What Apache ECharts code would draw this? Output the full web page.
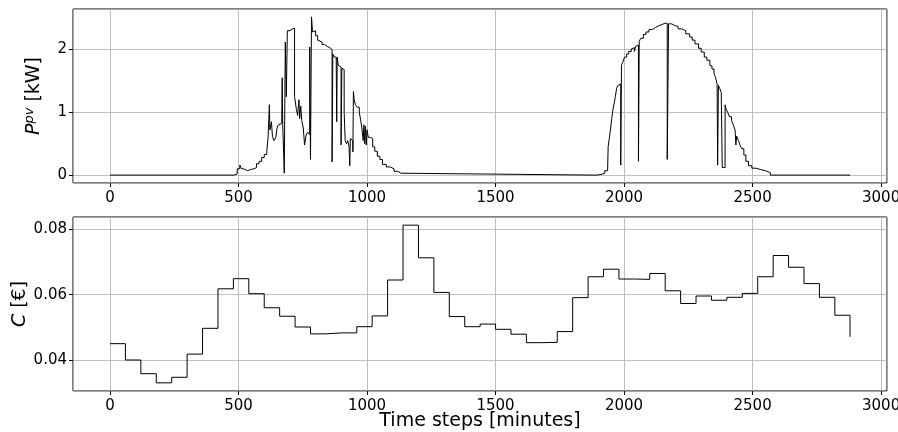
<!DOCTYPE html>
<html>
<head>
<meta charset="utf-8">
<script src="https://cdn.jsdelivr.net/npm/echarts@6/dist/echarts.min.js"></script>
<style>
  html, body { margin: 0; padding: 0; background: #fff; }
  #chart { width: 898px; height: 432px; }
</style>
</head>
<body>
<div id="chart"></div>
<script>
// PV 功率 (分钟, kW)，阶梯线
const pvTime = [
  0, 484, 495, 505, 512, 520, 535, 548, 560, 570, 580, 590, 600, 610, 615, 620, 622, 628, 632, 638,
  645, 650, 655, 660, 668, 670, 672, 678, 682, 686, 690, 700, 710, 718, 722, 725, 730, 735, 738, 742,
  746, 752, 757, 762, 768, 772, 777, 780, 784, 788, 795, 800, 808, 815, 825, 835, 845, 855, 864, 867,
  872, 880, 882, 884, 888, 893, 899, 902, 908, 911, 915, 920, 925, 930, 933, 935, 940, 945, 947, 950,
  955, 962, 970, 975, 980, 985, 988, 991, 994, 997, 1000, 1005, 1014, 1022, 1030, 1040, 1050, 1060, 1075, 1090,
  1105, 1120, 1132,
  1880, 1895, 1910, 1925, 1936, 1938, 1943, 1948, 1952, 1957, 1962, 1966, 1971, 1976, 1983, 1987, 1990, 1995, 2002,
  2010, 2018, 2028, 2035, 2040, 2045, 2052, 2056, 2059, 2065, 2075, 2085, 2097, 2110, 2122, 2135, 2148, 2160, 2168,
  2173, 2185, 2198, 2210, 2224, 2240, 2255, 2265, 2276, 2290, 2300, 2312, 2322, 2334, 2342, 2350, 2356, 2362, 2364,
  2367, 2372, 2378, 2382, 2393, 2397, 2403, 2410, 2418, 2425, 2432, 2435, 2438, 2445, 2452, 2458, 2466, 2474, 2484,
  2497, 2512, 2530, 2549, 2569, 2879
];
const pvPower = [
  0, 0.02, 0.1, 0.16, 0.1, 0.07, 0.09, 0.1, 0.12, 0.18, 0.22, 0.28, 0.33, 0.38, 0.6, 1.12, 0.72, 0.85, 0.62, 0.55,
  0.6, 0.75, 0.8, 0.82, 0.85, 1.55, 0.8, 0.03, 2.12, 1.25, 2.3, 2.33, 2.34, 1.25, 1.25, 1.05, 0.95, 1.2, 0.9, 1.1,
  0.87, 0.75, 0.48, 0.62, 0.68, 0.65, 2.04, 0.25, 2.52, 2.28, 2.3, 2.22, 2.15, 2.12, 2.08, 2.05, 2.03, 2.0, 0.21, 1.93,
  1.88, 1.9, 0.85, 1.88, 1.75, 1.72, 0.48, 1.7, 1.68, 1.0, 0.55, 0.5, 0.55, 0.45, 0.15, 0.58, 0.55, 0.37, 1.33, 1.2,
  1.12, 1.08, 1.0, 0.88, 0.75, 0.55, 0.8, 0.5, 0.78, 0.48, 0.72, 0.6, 0.58, 0.45, 0.38, 0.3, 0.25, 0.17, 0.13, 0.1,
  0.06, 0.03, 0,
  0, 0.01, 0.03, 0.07, 0.08, 0.45, 0.6, 0.75, 0.9, 1.05, 1.15, 1.25, 1.38, 1.43, 1.45, 0.16, 1.75, 1.8, 1.88,
  1.93, 1.97, 2.01, 2.03, 1.97, 2.05, 2.07, 0.22, 2.13, 2.18, 2.24, 2.28, 2.32, 2.35, 2.38, 2.4, 2.42, 2.42, 0.25,
  2.41, 2.38, 2.37, 2.33, 2.3, 2.25, 2.2, 2.15, 2.09, 2.02, 1.96, 1.88, 1.83, 1.74, 1.69, 1.62, 1.55, 1.45, 0.16,
  1.43, 1.38, 1.32, 0.12, 1.12, 1.05, 1.0, 0.93, 0.87, 0.8, 0.72, 0.48, 0.62, 0.55, 0.47, 0.42, 0.32, 0.22, 0.15,
  0.11, 0.09, 0.07, 0.04, 0, 0
];

// 电价 (每小时一档, €)
const costTime = [
  0, 60, 120, 180, 240, 300, 360, 420, 480, 540, 600, 660, 720, 780, 840, 900, 960, 1020, 1080, 1140, 1200, 1260, 1320, 1380,
  1440, 1500, 1560, 1620, 1680, 1740, 1800, 1860, 1920, 1980, 2040, 2100, 2160, 2220, 2280, 2340, 2400, 2460, 2520, 2580, 2640, 2700, 2760, 2820,
  2879
];
const costValue = [
  0.045, 0.040, 0.0358, 0.0330, 0.0347, 0.0418, 0.0497, 0.0618, 0.0649, 0.0603, 0.0560, 0.0534, 0.0501, 0.0480, 0.0483, 0.0483, 0.0502, 0.0535, 0.0645, 0.0813, 0.0713, 0.0607, 0.0533, 0.0502,
  0.0510, 0.0494, 0.0479, 0.0453, 0.0454, 0.0487, 0.0591, 0.0655, 0.0678, 0.0648, 0.0647, 0.0665, 0.0612, 0.0573, 0.0596, 0.0583, 0.0592, 0.0604, 0.0655, 0.0720, 0.0684, 0.0634, 0.0592, 0.0537,
  0.0471
];

const xTickLabels = ['0', '500', '1000', '1500', '2000', '2500', '3000'];

const font = 'DejaVu Sans';
const pvData = pvTime.map((t, i) => [t, pvPower[i]]);
const costData = costTime.map((t, i) => [t, costValue[i]]);

function xAxisCfg(gridIndex, withName) {
  return {
    type: 'value',
    gridIndex: gridIndex,
    min: -143.95,
    max: 3022.95,
    name: withName ? 'Time steps [minutes]' : '',
    nameLocation: 'middle',
    nameGap: 21,
    nameMoveOverlap: false,
    nameTextStyle: { fontFamily: font, fontSize: 19, color: '#000' },
    axisLine: { show: false, onZero: false },
    axisTick: { show: true, length: 4, lineStyle: { color: '#000', width: 1 } },
    axisLabel: {
      color: '#000', fontFamily: font, fontSize: 15, margin: 8,
      showMinLabel: false, showMaxLabel: false,
      formatter: v => xTickLabels.includes(String(v)) ? String(v) : ''
    },
    splitLine: { show: true, lineStyle: { color: '#b0b0b0', width: 0.8 } }
  };
}

function yAxisCfg(gridIndex, min, max, splitNumber, name, gap, rich) {
  return {
    type: 'value',
    gridIndex: gridIndex,
    min: min,
    max: max,
    splitNumber: splitNumber,
    name: name,
    nameLocation: 'middle',
    nameRotate: 90,
    nameGap: gap,
    nameMoveOverlap: false,
    nameTextStyle: { fontFamily: font, fontSize: 19, color: '#000', rich: rich },
    axisLine: { show: false, onZero: false },
    axisTick: { show: true, length: 4, lineStyle: { color: '#000', width: 1 } },
    axisLabel: {
      color: '#000', fontFamily: font, fontSize: 15, margin: 6,
      showMinLabel: false, showMaxLabel: false
    },
    splitLine: { show: true, lineStyle: { color: '#b0b0b0', width: 0.8 } }
  };
}

const chart = echarts.init(document.getElementById('chart'), null, { renderer: 'canvas' });
chart.setOption({
  animation: false,
  backgroundColor: '#fff',
  grid: [
    { left: 73, right: 11, top: 9, height: 174, outerBoundsMode: 'none', containLabel: false,
      show: true, borderColor: '#000', borderWidth: 1, backgroundColor: 'transparent' },
    { left: 73, right: 11, top: 217, height: 174, outerBoundsMode: 'none', containLabel: false,
      show: true, borderColor: '#000', borderWidth: 1, backgroundColor: 'transparent' }
  ],
  xAxis: [xAxisCfg(0, false), xAxisCfg(1, true)],
  yAxis: [
    yAxisCfg(0, -0.126, 2.646, 2, '{i|P}{s|pv} {n|[kW]}', 28, {
      i: { fontFamily: font, fontSize: 19, fontStyle: 'italic', color: '#000' },
      s: { fontFamily: font, fontSize: 13, fontStyle: 'italic', color: '#000', padding: [0, 0, 9, 0] },
      n: { fontFamily: font, fontSize: 19, color: '#000' }
    }),
    yAxisCfg(1, 0.0305, 0.0838, 3, '{i|C} {n|[€]}', 43, {
      i: { fontFamily: font, fontSize: 19, fontStyle: 'italic', color: '#000' },
      n: { fontFamily: font, fontSize: 19, color: '#000' }
    })
  ],
  series: [
    {
      type: 'line', xAxisIndex: 0, yAxisIndex: 0, step: 'end', data: pvData,
      showSymbol: false, symbol: 'none',
      lineStyle: { color: '#000', width: 1 }
    },
    {
      type: 'line', xAxisIndex: 1, yAxisIndex: 1, step: 'end', data: costData,
      showSymbol: false, symbol: 'none',
      lineStyle: { color: '#000', width: 1 }
    }
  ]
});
</script>
</body>
</html>
